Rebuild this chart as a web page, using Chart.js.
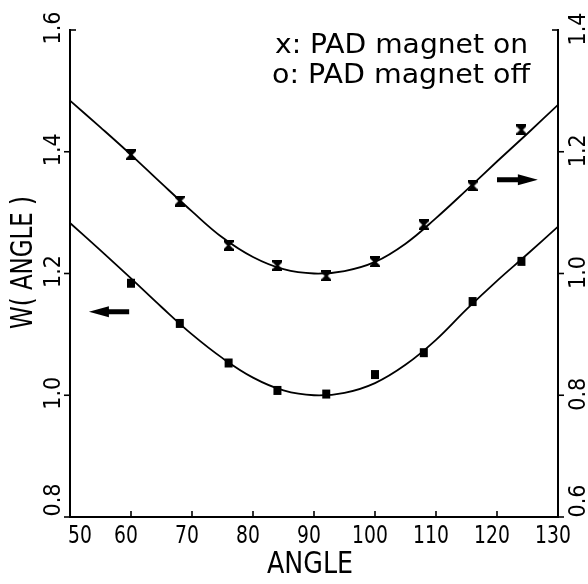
<!DOCTYPE html>
<html>
<head>
<meta charset="utf-8">
<script src="https://cdn.jsdelivr.net/npm/chart.js@4.4.1/dist/chart.umd.min.js"></script>
<style>
  html, body { margin: 0; padding: 0; background: #fff; }
  #wrap { width: 588px; height: 584px; position: relative; }
</style>
</head>
<body>
<div id="wrap"><canvas id="myChart"></canvas></div>
<script>
const angles = [60, 68, 76, 84, 92, 100, 108, 116, 124];
const magnetOn = [1.195, 1.119, 1.046, 1.013, 0.996, 1.019, 1.080, 1.144, 1.236];   // right axis
const magnetOff = [1.184, 1.118, 1.053, 1.008, 1.002, 1.034, 1.070, 1.154, 1.220];  // left axis

// fitted curves, read every 5 degrees
const fitAngles = [50, 55, 60, 65, 70, 75, 80, 85, 90, 95, 100, 105, 110, 115, 120, 125, 130];
const fitOn = [1.284, 1.240, 1.195, 1.148, 1.102, 1.059, 1.027, 1.007, 1.000, 1.004, 1.019, 1.049, 1.091, 1.137, 1.184, 1.230, 1.277];
const fitOff = [1.283, 1.238, 1.192, 1.145, 1.100, 1.061, 1.029, 1.008, 1.000, 1.004, 1.020, 1.050, 1.091, 1.141, 1.188, 1.232, 1.277];

// axes
const xRange = [50, 130];
const leftRange = [0.8, 1.6];
const rightRange = [0.6, 1.4];

const legendLines = ['x: PAD magnet on', 'o: PAD magnet off'];
// arrows: [fromAngle, toAngle, value, axis]
const arrows = [[59.7, 53.1, 1.137, 'y'], [120.0, 126.7, 1.154, 'y2']];

const FONT = '"DejaVu Sans"';

function makeMarker(kind) {
  const c = document.createElement('canvas');
  c.width = 10; c.height = 11;
  const g = c.getContext('2d');
  g.fillStyle = '#000';
  if (kind == 'square') {
    g.fillRect(1, 1, 8, 9);
  } else {
    // hourglass (error bar caps)
    g.beginPath();
    g.moveTo(0, 0); g.lineTo(10, 0); g.lineTo(10, 2); g.lineTo(6.5, 5.5);
    g.lineTo(10, 9); g.lineTo(10, 11); g.lineTo(0, 11); g.lineTo(0, 9);
    g.lineTo(3.5, 5.5); g.lineTo(0, 2);
    g.closePath();
    g.fill();
  }
  return c;
}

function xy(xs, ys) {
  return xs.map((x, i) => ({ x: x, y: ys[i] }));
}

// draw text at baseline, with horizontal squeeze sx (or fit to width)
function drawText(ctx, str, x, y, size, sx, rot, align, fitWidth) {
  ctx.save();
  ctx.font = size + 'px ' + FONT;
  if (fitWidth) sx = fitWidth / ctx.measureText(str).width;
  ctx.translate(x, y);
  if (rot) ctx.rotate(rot);
  ctx.scale(sx, 1);
  ctx.textAlign = align || 'center';
  ctx.textBaseline = 'alphabetic';
  ctx.fillStyle = '#000';
  ctx.fillText(str, 0, 0);
  ctx.restore();
}

function arrow(ctx, x0, x1, y) {
  const dir = x1 > x0 ? 1 : -1;
  const headBase = x1 - dir * 20;
  ctx.beginPath();
  ctx.moveTo(x0, y - 2.5);
  ctx.lineTo(headBase, y - 2.5);
  ctx.lineTo(headBase, y - 5.5);
  ctx.lineTo(x1, y);
  ctx.lineTo(headBase, y + 5.5);
  ctx.lineTo(headBase, y + 2.5);
  ctx.lineTo(x0, y + 2.5);
  ctx.closePath();
  ctx.fill();
}

const decorations = {
  id: 'decorations',
  afterDraw(chart) {
    const ctx = chart.ctx;
    const xs = chart.scales.x, yl = chart.scales.y, yr = chart.scales.y2;
    const area = chart.chartArea;
    ctx.save();
    ctx.strokeStyle = '#000';
    ctx.fillStyle = '#000';
    ctx.lineWidth = 1.6;

    // x ticks (inward) and labels
    xs.ticks.forEach((t, i) => {
      const px = xs.getPixelForValue(t.value);
      ctx.beginPath();
      ctx.moveTo(px, area.bottom);
      ctx.lineTo(px, area.bottom - 6);
      ctx.stroke();
      const lx = i == 0 ? px + 10 : px - 5;
      drawText(ctx, String(t.value), lx, area.bottom + 26, 25, 0.75, 0, 'center');
    });

    // left ticks (outward) and rotated labels
    yl.ticks.forEach((t, i) => {
      const py = yl.getPixelForValue(t.value);
      const top = i == yl.ticks.length - 1;
      ctx.beginPath();
      ctx.moveTo(area.left, py);
      ctx.lineTo(top ? area.left + 6 : area.left - 6, py);
      ctx.stroke();
      const ly = i == 0 ? py - 17 : py - 2;
      drawText(ctx, t.value.toFixed(1), area.left - 10, ly, 23, 0.9, -Math.PI / 2, 'center');
    });

    // right ticks (outward) and rotated labels
    yr.ticks.forEach((t, i) => {
      const py = yr.getPixelForValue(t.value);
      const top = i == yr.ticks.length - 1;
      ctx.beginPath();
      ctx.moveTo(area.right, py);
      ctx.lineTo(top ? area.right - 6 : area.right + 6, py);
      ctx.stroke();
      const ly = i == 0 ? py - 16 : py - 1;
      drawText(ctx, t.value.toFixed(1), area.right + 27, ly, 23, 0.9, -Math.PI / 2, 'center');
    });

    // axis titles
    drawText(ctx, 'ANGLE', (area.left + area.right) / 2 - 4, area.bottom + 56, 31, 1, 0, 'center', 86);
    drawText(ctx, 'W( ANGLE )', area.left - 38, (area.top + area.bottom) / 2 - 11, 30, 1, -Math.PI / 2, 'center', 133);

    // legend text
    drawText(ctx, legendLines[0], 275, 53, 27, 1, 0, 'left', 253);
    drawText(ctx, legendLines[1], 272, 83, 27, 1, 0, 'left', 258);

    // arrows showing which axis each curve uses
    arrows.forEach(a => {
      const sc = chart.scales[a[3]];
      arrow(ctx, xs.getPixelForValue(a[0]), xs.getPixelForValue(a[1]), sc.getPixelForValue(a[2]));
    });
    ctx.restore();
  }
};

const axisBase = {
  grid: { display: false, drawTicks: false },
  border: { display: true, color: '#000', width: 2 },
  ticks: { display: false },
  title: { display: false }
};

const config = {
  type: 'line',
  data: {
    datasets: [
      {
        label: 'PAD magnet on',
        data: xy(angles, magnetOn),
        yAxisID: 'y2',
        showLine: false,
        pointStyle: makeMarker('hourglass'),
        pointRadius: 5
      },
      {
        label: 'PAD magnet off',
        data: xy(angles, magnetOff),
        yAxisID: 'y',
        showLine: false,
        pointStyle: makeMarker('square'),
        pointRadius: 5
      },
      {
        label: 'fit on',
        data: xy(fitAngles, fitOn),
        yAxisID: 'y2',
        borderColor: '#000',
        borderWidth: 1.8,
        pointRadius: 0,
        tension: 0.4
      },
      {
        label: 'fit off',
        data: xy(fitAngles, fitOff),
        yAxisID: 'y',
        borderColor: '#000',
        borderWidth: 1.8,
        pointRadius: 0,
        tension: 0.4
      }
    ]
  },
  options: {
    responsive: true,
    maintainAspectRatio: false,
    animation: false,
    layout: { padding: { left: 70, right: 30, top: 30, bottom: 67 } },
    plugins: { legend: { display: false }, tooltip: { enabled: false } },
    scales: {
      x: Object.assign({}, axisBase, {
        type: 'linear', min: xRange[0], max: xRange[1],
        ticks: { display: false, stepSize: 10 }
      }),
      y: Object.assign({}, axisBase, {
        type: 'linear', position: 'left', min: leftRange[0], max: leftRange[1],
        ticks: { display: false, stepSize: 0.2 }
      }),
      y2: Object.assign({}, axisBase, {
        type: 'linear', position: 'right', min: rightRange[0], max: rightRange[1],
        ticks: { display: false, stepSize: 0.2 }
      })
    }
  },
  plugins: [decorations]
};

const myChart = new Chart(document.getElementById('myChart'), config);
</script>
</body>
</html>
